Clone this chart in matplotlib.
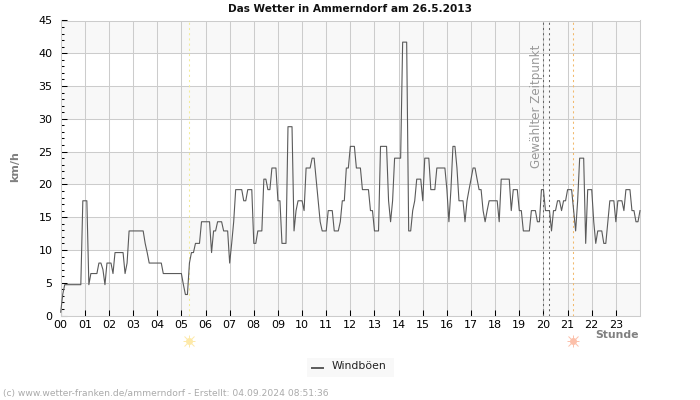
import numpy as np
import matplotlib
matplotlib.use("Agg")
import matplotlib.pyplot as plt
from matplotlib.patches import Rectangle
from matplotlib.lines import Line2D

# Windboeen in km/h, one value every 5 minutes, 12 values per row
wind = [
    0.5, 3.2, 4.7, 4.7, 4.7, 4.7, 4.7, 4.7, 4.7, 4.7, 4.7, 17.5,
    17.5, 17.5, 4.7, 6.4, 6.4, 6.4, 6.4, 8, 8, 7, 4.7, 8,
    8, 8, 6.4, 9.6, 9.6, 9.6, 9.6, 9.6, 6.4, 8, 12.9, 12.9,
    12.9, 12.9, 12.9, 12.9, 12.9, 12.9, 11, 9.6, 8, 8, 8, 8,
    8, 8, 8, 6.4, 6.4, 6.4, 6.4, 6.4, 6.4, 6.4, 6.4, 6.4,
    6.4, 4.7, 3.2, 3.2, 8, 9.6, 9.6, 11, 11, 11, 14.3, 14.3,
    14.3, 14.3, 14.3, 9.6, 12.9, 12.9, 14.3, 14.3, 14.3, 12.9, 12.9, 12.9,
    8, 11, 14.3, 19.2, 19.2, 19.2, 19.2, 17.5, 17.5, 19.2, 19.2, 19.2,
    11, 11, 12.9, 12.9, 12.9, 20.8, 20.8, 19.2, 19.2, 22.5, 22.5, 22.5,
    17.5, 17.5, 11, 11, 11, 28.8, 28.8, 28.8, 12.9, 16, 17.5, 17.5,
    17.5, 16, 22.5, 22.5, 22.5, 24, 24, 20.8, 17.5, 14.3, 12.9, 12.9,
    12.9, 16, 16, 16, 12.9, 12.9, 12.9, 14.3, 17.5, 17.5, 22.5, 22.5,
    25.8, 25.8, 25.8, 22.5, 22.5, 22.5, 19.2, 19.2, 19.2, 19.2, 16, 16,
    12.9, 12.9, 12.9, 25.8, 25.8, 25.8, 25.8, 17.5, 14.3, 17.5, 24, 24,
    24, 24, 41.7, 41.7, 41.7, 12.9, 12.9, 16, 17.5, 20.8, 20.8, 20.8,
    17.5, 24, 24, 24, 19.2, 19.2, 19.2, 22.5, 22.5, 22.5, 22.5, 22.5,
    19.2, 14.3, 19.2, 25.8, 25.8, 22.5, 17.5, 17.5, 17.5, 14.3, 17.5, 19.2,
    20.8, 22.5, 22.5, 20.8, 19.2, 19.2, 16, 14.3, 16, 17.5, 17.5, 17.5,
    17.5, 17.5, 14.3, 20.8, 20.8, 20.8, 20.8, 20.8, 16, 19.2, 19.2, 19.2,
    16, 16, 12.9, 12.9, 12.9, 12.9, 16, 16, 16, 14.3, 14.3, 19.2,
    19.2, 16, 16, 16, 12.9, 16, 16, 17.5, 17.5, 16, 17.5, 17.5,
    19.2, 19.2, 19.2, 16, 12.9, 17.5, 24, 24, 24, 11, 19.2, 19.2,
    19.2, 14.3, 11, 12.9, 12.9, 12.9, 11, 11, 14.3, 17.5, 17.5, 17.5,
    14.3, 17.5, 17.5, 17.5, 16, 19.2, 19.2, 19.2, 16, 16, 14.3, 14.3,
    16,
]
hours = np.arange(len(wind)) / 12

hour_labels = [f"{h:02d}" for h in range(24)]
y_major = list(range(0, 50, 5))
y_minor = list(range(0, 46))
sunrise = 5.33
sunset = 21.22
selected = [19.98, 20.23]

fig = plt.figure(figsize=(7, 4), dpi=100)
ax = fig.add_axes([60.7 / 700, 84.5 / 400, 579.3 / 700, 295 / 400])
ax.set_xlim(0, 24)
ax.set_ylim(0, 45)

# alternating bands
for low in range(0, 45, 10):
    ax.axhspan(low, low + 5, color="#f8f8f8", lw=0, zorder=0)

ax.grid(True, which="major", color="#cccccc", lw=0.75, zorder=1)
ax.set_axisbelow(True)
for s in ax.spines.values():
    s.set_color("#cccccc")
    s.set_linewidth(0.75)

ax.axvline(sunrise, color="#f3ec9a", lw=0.75, ls=(0, (2, 3)), zorder=2)
ax.axvline(sunset, color="#f2b96b", lw=0.75, ls=(0, (2, 3)), zorder=2)
for t in selected:
    ax.axvline(t, color="#666666", lw=0.75, ls=(0, (2, 3)), zorder=2)

ax.plot(hours, wind, color="#5a5a5a", lw=0.8, zorder=3, clip_on=False)

ax.set_xticks(range(24))
ax.set_xticklabels(hour_labels, fontsize=8)
ax.set_yticks(y_major)
ax.set_yticklabels([str(v) for v in y_major], fontsize=8)
ax.set_yticks(y_minor, minor=True)
ax.tick_params(axis="x", direction="in", length=4, width=0.75, pad=3, color="black")
ax.tick_params(axis="y", which="major", direction="in", length=4, width=0.75, pad=6, color="black")
ax.tick_params(axis="y", which="minor", direction="in", length=2.2, width=0.75, color="black")

ax.text(19.7, 45 - 3.7, "Gewählter Zeitpunkt", rotation=90, ha="center", va="top",
        fontsize=8.6, color="#999999", zorder=4)

# sun symbols below the axis
trans = ax.get_xaxis_transform()
for t, col in [(sunrise, "#fde9a8"), (sunset, "#fcc0aa")]:
    ax.plot([t], [-0.088], marker="o", ms=5, color=col, mec="none", transform=trans, clip_on=False)
    ax.plot([t], [-0.088], marker="+", ms=9, color=col, mew=0.7, transform=trans, clip_on=False)
    ax.plot([t], [-0.088], marker="x", ms=6.5, color=col, mew=0.7, transform=trans, clip_on=False)

fig.text(349.5 / 700, 1 - 8.5 / 400, "Das Wetter in Ammerndorf am 26.5.2013", ha="center", va="center",
         fontsize=7.55, fontweight="bold", color="#111111")
fig.text(15.5 / 700, 1 - 167 / 400, "km/h", rotation=90, ha="center", va="center",
         fontsize=8, fontweight="bold", color="#808080")
fig.text(639 / 700, 1 - 334.5 / 400, "Stunde", ha="right", va="center",
         fontsize=7.8, fontweight="bold", color="#808080")
fig.text(3 / 700, 1 - 393.5 / 400, "(c) www.wetter-franken.de/ammerndorf - Erstellt: 04.09.2024 08:51:36",
         ha="left", va="center", fontsize=6.6, color="#aaaaaa")

# legend box
fig.add_artist(Rectangle((307 / 700, 1 - 376.5 / 400), 87 / 700, 19 / 400, transform=fig.transFigure,
                         color="#f8f8f8", lw=0))
fig.add_artist(Line2D([312 / 700, 323 / 700], [1 - 368 / 400] * 2, transform=fig.transFigure,
                      color="#5a5a5a", lw=1.4))
fig.text(332 / 700, 1 - 366 / 400, "Windböen", ha="left", va="center", fontsize=7.8, color="#222222")

fig.savefig("out.png", dpi=100)
